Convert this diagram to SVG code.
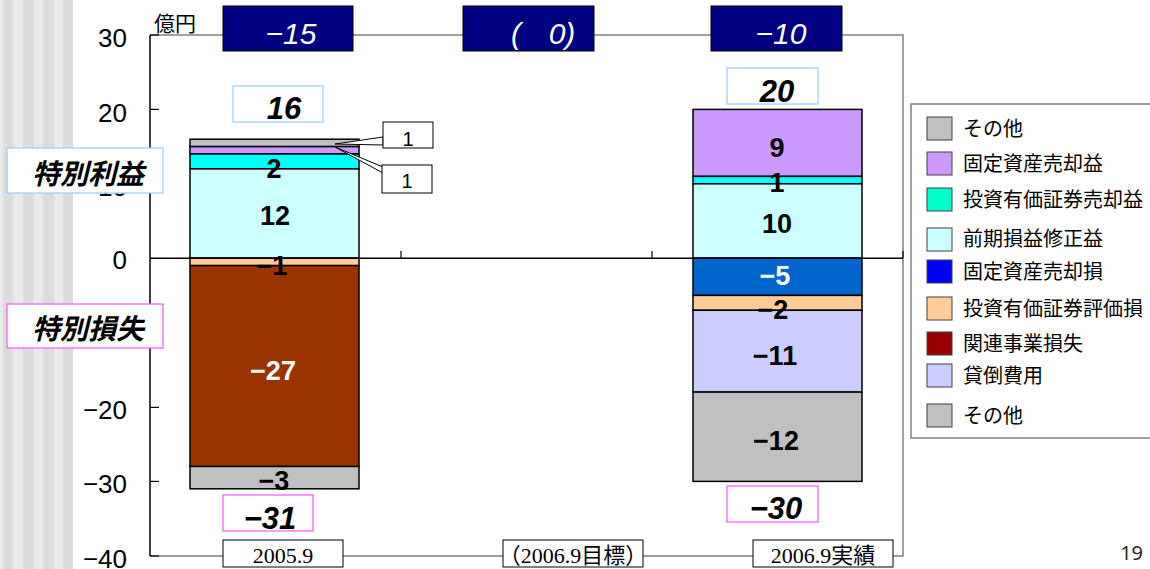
<svg xmlns="http://www.w3.org/2000/svg" width="1150" height="569" viewBox="0 0 1150 569">
<style>
.ax{font-family:"Liberation Sans",Arial,sans-serif;font-size:26px;fill:#000;text-anchor:end}
.bl{font-family:"Liberation Sans",Arial,sans-serif;font-size:27px;font-weight:bold;text-anchor:middle;fill:#000}
.wh{fill:#fff}
.tot{font-family:"Liberation Sans",Arial,sans-serif;font-size:31px;font-weight:bold;font-style:italic;text-anchor:middle;fill:#000}
.nv{font-family:"Liberation Sans",Arial,sans-serif;font-size:30px;font-style:italic;fill:#fff;text-anchor:middle}
.cj{font-family:"Noto Sans CJK JP","Noto Sans",sans-serif}
.lg{font-family:"Noto Sans CJK JP","Noto Sans",sans-serif;font-size:20px;fill:#000}
.cat{font-family:"Liberation Serif","Noto Sans CJK JP",serif;font-size:22px;text-anchor:middle;fill:#000}
.seg{stroke:#000;stroke-width:1.5}
.sw{stroke:#404040;stroke-width:1}
.box{fill:#fff;stroke:#000;stroke-width:1}
</style>
<rect x="0" y="0" width="1150" height="569" fill="#fff"/>
<g id="stripes">
<rect x="0" y="0" width="73" height="569" fill="#e9e9e9"/>
<rect x="3" y="0" width="10" height="569" fill="#dcdcdc"/>
<rect x="23" y="0" width="11" height="569" fill="#dcdcdc"/>
<rect x="43" y="0" width="11" height="569" fill="#dcdcdc"/>
<rect x="63" y="0" width="10" height="569" fill="#dcdcdc"/>
</g>
<g id="axes">
<polyline points="150,35 903,35 903,556 150,556" fill="none" stroke="#808080" stroke-width="1.5"/>
<line x1="150" y1="35" x2="150" y2="556" stroke="#000" stroke-width="1.5"/>
<g stroke="#000" stroke-width="1.2">
<line x1="150" y1="35" x2="159" y2="35"/>
<line x1="150" y1="109.4" x2="159" y2="109.4"/>
<line x1="150" y1="183.8" x2="159" y2="183.8"/>
<line x1="150" y1="333" x2="159" y2="333"/>
<line x1="150" y1="407.4" x2="159" y2="407.4"/>
<line x1="150" y1="481.4" x2="159" y2="481.4"/>
<line x1="150" y1="556" x2="159" y2="556"/>
</g>
<text class="ax" x="127" y="47">30</text>
<text class="ax" x="127" y="122">20</text>
<text class="ax" x="127" y="196">10</text>
<text class="ax" x="127" y="269">0</text>
<text class="ax" x="127" y="419">−20</text>
<text class="ax" x="127" y="493">−30</text>
<text class="ax" x="127" y="568">−40</text>
<text class="cj" x="154" y="31" font-size="21">億円</text>
</g>
<g id="bar-2005">
<rect class="seg" x="190" y="139.2" width="169" height="7.4" fill="#c0c0c0"/>
<rect class="seg" x="190" y="146.6" width="169" height="7.4" fill="#cc99ff"/>
<rect class="seg" x="190" y="154" width="169" height="14.9" fill="#00ffff"/>
<rect class="seg" x="190" y="168.9" width="169" height="89.3" fill="#ccffff"/>
<rect class="seg" x="190" y="258.2" width="169" height="7.4" fill="#ffcc99"/>
<rect class="seg" x="190" y="265.6" width="169" height="200.9" fill="#993300"/>
<rect class="seg" x="190" y="466.5" width="169" height="22.3" fill="#c0c0c0"/>
<text class="bl" x="274" y="178">2</text>
<text class="bl" x="275" y="225">12</text>
<text class="bl" x="272" y="275">−1</text>
<text class="bl wh" x="273" y="380">−27</text>
<text class="bl" x="274" y="490">−3</text>
</g>
<g id="bar-2006">
<rect class="seg" x="693" y="109.4" width="169" height="67" fill="#cc99ff"/>
<rect class="seg" x="693" y="176.4" width="169" height="7.4" fill="#00ffff"/>
<rect class="seg" x="693" y="183.8" width="169" height="74.4" fill="#ccffff"/>
<rect class="seg" x="693" y="258.2" width="169" height="37.2" fill="#0066cc"/>
<rect class="seg" x="693" y="295.4" width="169" height="14.9" fill="#ffcc99"/>
<rect class="seg" x="693" y="310.3" width="169" height="81.8" fill="#ccccff"/>
<rect class="seg" x="693" y="392.1" width="169" height="89.3" fill="#c0c0c0"/>
<text class="bl" x="777" y="157">9</text>
<text class="bl" x="777" y="192">1</text>
<text class="bl" x="777" y="233">10</text>
<text class="bl wh" x="775" y="285" font-size="29">−5</text>
<text class="bl" x="773" y="319">−2</text>
<text class="bl" x="775" y="365">−11</text>
<text class="bl" x="776" y="450">−12</text>
</g>
<g id="zero-line">
<line x1="150" y1="258.2" x2="903" y2="258.2" stroke="#000" stroke-width="1.5"/>
<g stroke="#000" stroke-width="1.2">
<line x1="401" y1="251" x2="401" y2="258"/>
<line x1="652" y1="251" x2="652" y2="258"/>
<line x1="903" y1="251" x2="903" y2="258"/>
</g>
</g>
<g id="connectors">
<polygon points="335,144 383,137 383,145" fill="#fff" stroke="#000" stroke-width="1"/>
<polygon points="335,147 383,167 383,173" fill="#fff" stroke="#000" stroke-width="1"/>
</g>
<g id="callout-1a">
<rect class="box" x="383" y="122" width="50" height="26"/>
<text x="408" y="146" font-family="Liberation Sans,Arial,sans-serif" font-size="20" text-anchor="middle">1</text>
</g>
<g id="callout-1b">
<rect class="box" x="382" y="165" width="50" height="28"/>
<text x="407" y="188" font-family="Liberation Sans,Arial,sans-serif" font-size="20" text-anchor="middle">1</text>
</g>
<g id="total-16">
<rect x="233" y="86" width="90" height="36" fill="#fff" stroke="#99ccff" stroke-width="1.2"/>
<text class="tot" x="284" y="119">16</text>
</g>
<g id="total-20">
<rect x="727" y="68" width="91" height="36" fill="#fff" stroke="#99ccff" stroke-width="1.2"/>
<text class="tot" x="777" y="102">20</text>
</g>
<g id="total-m31">
<rect x="223" y="495" width="90" height="36" fill="#fff" stroke="#ff55ff" stroke-width="1.2"/>
<text class="tot" x="270" y="529">−31</text>
</g>
<g id="total-m30">
<rect x="727" y="486" width="91" height="36" fill="#fff" stroke="#ff55ff" stroke-width="1.2"/>
<text class="tot" x="776" y="519">−30</text>
</g>
<g id="diff-m15">
<rect x="223" y="6" width="130" height="45" fill="#000080" stroke="#000" stroke-width="1"/>
<text class="nv" x="291" y="44">−15</text>
</g>
<g id="diff-0">
<rect x="463" y="6" width="131" height="45" fill="#000080" stroke="#000" stroke-width="1"/>
<text class="nv" x="516" y="44">(<tspan x="562">0)</tspan></text>
</g>
<g id="diff-m10">
<rect x="711" y="6" width="131" height="45" fill="#000080" stroke="#000" stroke-width="1"/>
<text class="nv" x="781" y="44">−10</text>
</g>
<g id="label-gain">
<rect x="7" y="148" width="156" height="45" fill="#fff" stroke="#99ccff" stroke-width="1.2"/>
<text class="cj" x="88" y="184" font-size="28" font-weight="bold" font-style="italic" text-anchor="middle">特別利益</text>
</g>
<g id="label-loss">
<rect x="7" y="304" width="156" height="44" fill="#fff" stroke="#ff55ff" stroke-width="1.2"/>
<text class="cj" x="88" y="339" font-size="28" font-weight="bold" font-style="italic" text-anchor="middle">特別損失</text>
</g>
<g id="categories">
<rect class="box" x="223" y="540" width="120" height="27"/>
<text class="cat" x="283" y="563">2005.9</text>
<rect class="box" x="503" y="540" width="140" height="27"/>
<text class="cat" x="573" y="563">（2006.9目標）</text>
<rect class="box" x="753" y="540" width="140" height="27"/>
<text class="cat" x="823" y="563">2006.9実績</text>
</g>
<g id="legend">
<rect x="911" y="104" width="245" height="334" fill="#fff" stroke="#808080" stroke-width="1.5"/>
<rect class="sw" x="927" y="117" width="25" height="23" fill="#c0c0c0"/>
<text class="lg" x="963" y="136">その他</text>
<rect class="sw" x="927" y="152" width="25" height="23" fill="#cc99ff"/>
<text class="lg" x="963" y="171">固定資産売却益</text>
<rect class="sw" x="927" y="188" width="25" height="23" fill="#00ffcc"/>
<text class="lg" x="963" y="207">投資有価証券売却益</text>
<rect class="sw" x="927" y="228" width="25" height="23" fill="#ccffff"/>
<text class="lg" x="963" y="246">前期損益修正益</text>
<rect class="sw" x="927" y="260" width="25" height="23" fill="#0000ff"/>
<text class="lg" x="963" y="279">固定資産売却損</text>
<rect class="sw" x="927" y="297" width="25" height="23" fill="#ffcc99"/>
<text class="lg" x="963" y="316">投資有価証券評価損</text>
<rect class="sw" x="927" y="332" width="25" height="23" fill="#990000"/>
<text class="lg" x="963" y="351">関連事業損失</text>
<rect class="sw" x="927" y="364" width="25" height="23" fill="#ccccff"/>
<text class="lg" x="963" y="383">貸倒費用</text>
<rect class="sw" x="927" y="404" width="25" height="23" fill="#c0c0c0"/>
<text class="lg" x="963" y="423">その他</text>
</g>
<text x="1143" y="560" font-family="Open Sans,Liberation Sans,sans-serif" font-size="20" text-anchor="end" fill="#222">19</text>
</svg>
